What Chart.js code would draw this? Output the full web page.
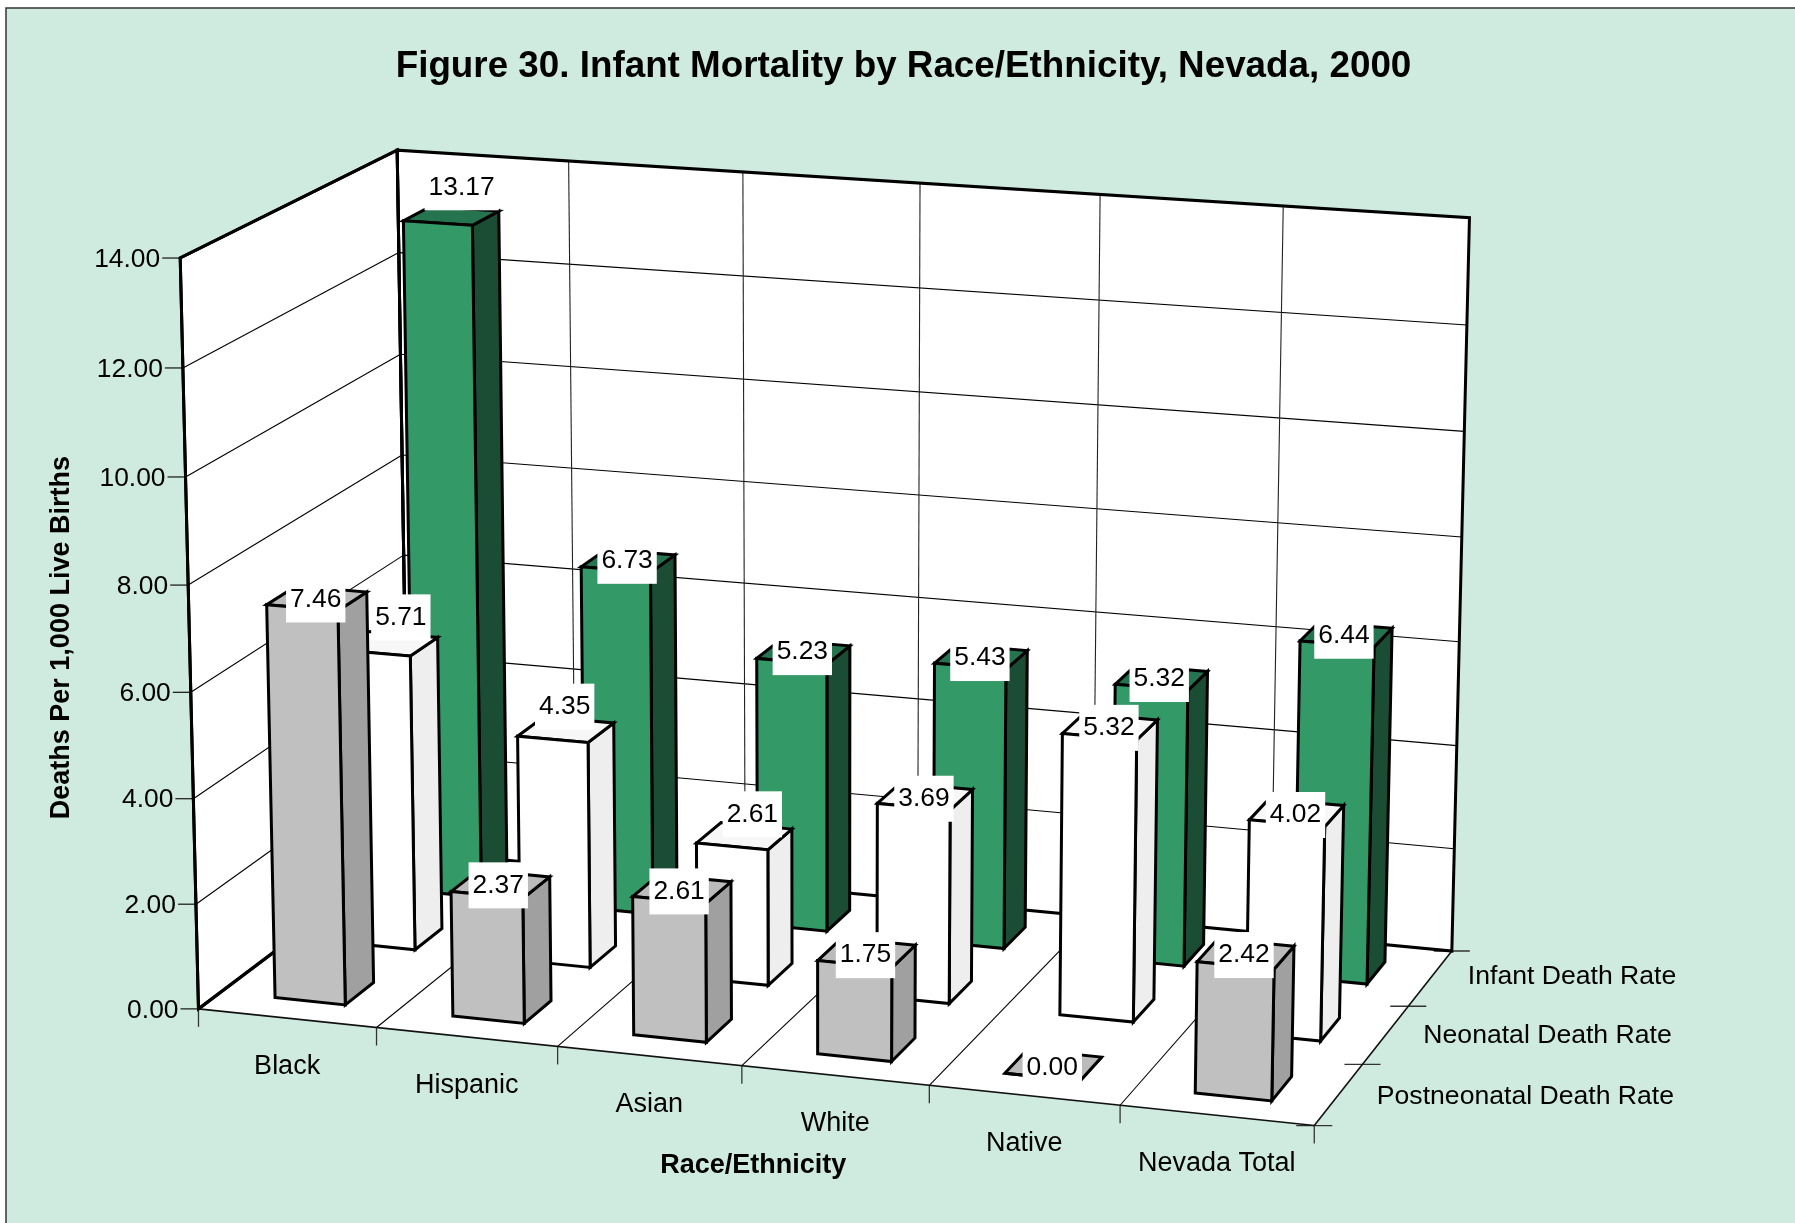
<!DOCTYPE html>
<html><head><meta charset="utf-8">
<style>html,body{margin:0;padding:0;background:#fff}canvas{display:block}</style>
<script src="https://cdn.jsdelivr.net/npm/chart.js@4"></script>
</head><body>
<canvas id="c" width="1795" height="1223"></canvas>
<script>
const categories = ["Black","Hispanic","Asian","White","Native","Nevada Total"];
const postneonatalRate = [7.46,2.37,2.61,1.75,0.00,2.42];
const neonatalRate = [5.71,4.35,2.61,3.69,5.32,4.02];
const infantRate = [13.17,6.73,5.23,5.43,5.32,6.44];
const seriesNames = ["Postneonatal Death Rate","Neonatal Death Rate","Infant Death Rate"];
const chartTitle = "Figure 30. Infant Mortality by Race/Ethnicity, Nevada, 2000";
const yAxisTitle = "Deaths Per 1,000 Live Births";
const xAxisTitle = "Race/Ethnicity";

/* ---------- layout / style (not data) ---------- */
const S = 1795/1568, FONT = '"Liberation Sans", Arial, sans-serif';
const faces = [
  {front:'#C0C0C0', side:'#A0A0A0', top:'#BBBBBB'},
  {front:'#FFFFFF', side:'#EEEEEE', top:'#F7F7F7'},
  {front:'#339966', side:'#1A4D33', top:'#267350'}
];
// label placement relative to the bar-top centre (dx, dy), per series and category
const labelNudge = [
  [[-1,1],[-2,1],[-2.5,2],[-1,2],[-1,2],[-1.5,1]],
  [[10,-23],[-1,-20],[7,-19],[-1,2],[-1,1],[-1,2]],
  [[9,-25],[-1,0],[-1,0],[-1,1],[-2,1],[-2,1]]
];
const seriesLabelNudge = [[0,2],[-2,1],[2,-1]];
const barShift = 0.0065/6;
// projection calibration of the 3-D box: [u 0-6, depth 0-3, v 0-14, screen x, screen y]
const corners = [[0,0,0,174,880],[6,0,0,1148,985],[0,3,14,348.5,130],[6,3,14,1284,190],[6,3,0,1268,827.5],[0,0,14,157,226.5],[0,3,0,356,746.5]];
const calib = [
 ...corners,...corners,...corners,
 [1,0,0,329,897],[2,0,0,488,914],[3,0,0,648,931],[4,0,0,812,949],[5,0,0,978,967],
 [1,3,14,496,141],[2,3,14,648,150],[3,3,14,802,160],[4,3,14,960,170],[5,3,14,1120,180],
 [6,1,0,1190,930],[6,2,0,1230,879],
 [0,0,12,159,321],[0,0,10,162,416],[0,0,8,164,510],[0,0,6,166.5,603],[0,0,4,169,696],[0,0,2,171.5,789],
 [6,3,12,1282,286],[6,3,10,1280,379],[6,3,8,1277,470],[6,3,6,1275,560],[6,3,4,1273,650],[6,3,2,1271,741]
];
function fitProjection(){
  const n=11, A=Array.from({length:n},()=>new Array(n+1).fill(0));
  const add=(r,b)=>{for(let i=0;i<n;i++){for(let j=0;j<n;j++)A[i][j]+=r[i]*r[j];A[i][n]+=r[i]*b;}};
  calib.forEach(([u,d,v,sx,sy])=>{
    u/=6;d/=3;v/=14;const X=sx/1000,Y=sy/1000;
    add([u,d,v,1,0,0,0,0,-X*u,-X*d,-X*v],X);
    add([0,0,0,0,u,d,v,1,-Y*u,-Y*d,-Y*v],Y);
  });
  for(let c=0;c<n;c++){
    let p=c;for(let r=c+1;r<n;r++)if(Math.abs(A[r][c])>Math.abs(A[p][c]))p=r;
    [A[c],A[p]]=[A[p],A[c]];
    for(let r=0;r<n;r++){if(r===c)continue;const f=A[r][c]/A[c][c];for(let k=c;k<=n;k++)A[r][k]-=f*A[c][k];}
  }
  return A.map((row,i)=>row[n]/row[i]);
}
const P = fitProjection();
// u, d, v are fractions 0..1 of the box; result in canvas pixels
function proj(u,d,v){
  const w=P[8]*u+P[9]*d+P[10]*v+1;
  return [1000*S*(P[0]*u+P[1]*d+P[2]*v+P[3])/w, 1000*S*(P[4]*u+P[5]*d+P[6]*v+P[7])/w];
}
function poly(ctx,pts,fill,stroke,lw){
  ctx.beginPath();pts.forEach((p,i)=>i?ctx.lineTo(p[0],p[1]):ctx.moveTo(p[0],p[1]));
  if(fill!==undefined&&fill!==null){ctx.closePath();ctx.fillStyle=fill;ctx.fill();}
  if(stroke){ctx.strokeStyle=stroke;ctx.lineWidth=lw;ctx.lineJoin='miter';ctx.lineCap='butt';ctx.stroke();}
}
function line(ctx,a,b,c,lw){poly(ctx,[a,b],null,c,lw);}
function text(ctx,s,x,y,font,align,rot){
  ctx.save();ctx.translate(x,y);if(rot)ctx.rotate(rot);ctx.font=font;ctx.fillStyle='#000';
  ctx.textAlign=align||'center';ctx.textBaseline='middle';ctx.fillText(s,0,0);ctx.restore();
}

const frame3D = {
  id:'frame3D',
  beforeDraw(chart){
    const ctx=chart.ctx;
    ctx.save();
    ctx.fillStyle='#fff';ctx.fillRect(0,0,1795,1223);
    const fx=6,fy=8;
    ctx.fillStyle='#CFEBDF';ctx.fillRect(fx,fy,1795-fx,1223-fy);
    ctx.strokeStyle='#333';ctx.lineWidth=1.5;ctx.beginPath();ctx.moveTo(fx,1223);ctx.lineTo(fx,fy);ctx.lineTo(1795,fy);ctx.stroke();
    ctx.restore();
  },
  beforeDatasetsDraw(chart){
    const ctx=chart.ctx,xs=chart.scales.x,ys=chart.scales.y;
    ctx.save();
    const vOf=t=>(ys.bottom-ys.getPixelForValue(t))/ys.height;
    // walls and floor
    poly(ctx,[proj(0,0,0),proj(0,0,1),proj(0,1,1),proj(0,1,0)],'#fff');
    poly(ctx,[proj(0,1,0),proj(0,1,1),proj(1,1,1),proj(1,1,0)],'#fff');
    poly(ctx,[proj(0,0,0),proj(1,0,0),proj(1,1,0),proj(0,1,0)],'#fff');
    // value gridlines and ticks
    ys.ticks.forEach(t=>{
      const v=vOf(t.value),a=proj(0,0,v),b=proj(0,1,v),c=proj(1,1,v);
      if(v>0&&v<1){line(ctx,a,b,'#000',1.1);line(ctx,b,c,'#000',1.1);}
      line(ctx,[a[0]-18,a[1]],a,'#222',1.3);
      text(ctx,t.label,a[0]-20,a[1]+1.5,'26.4px '+FONT,'right');
    });
    // category gridlines and ticks
    for(let i=0;i<=categories.length;i++){
      const u=i/categories.length,a=proj(u,0,0),b=proj(u,1,0),c=proj(u,1,1);
      if(i>0&&i<categories.length){line(ctx,a,b,'#000',1.1);line(ctx,b,c,'#222',1.1);}
      line(ctx,a,[a[0],a[1]+18],'#333',1.3);
    }
    categories.forEach((name,i)=>{
      const p=proj((xs.getPixelForValue(i)-xs.left)/xs.width,0,0);
      text(ctx,name,p[0],p[1]+48.5,'27px '+FONT);
    });
    // depth ticks & series names
    seriesNames.forEach((name,r)=>{
      const mid=proj(1,(r+.5)/3,0);
      text(ctx,name,1674+seriesLabelNudge[r][0]*S,mid[1]+seriesLabelNudge[r][1]*S,'26.6px '+FONT,'right');
    });
    for(let r=0;r<=3;r++){
      const a=proj(1,r/3,0);
      line(ctx,[a[0]-18,a[1]],[a[0]+18,a[1]],'#333',1.3);
    }
    // box outline
    line(ctx,proj(0,0,0),proj(1,0,0),'#111',1.6);
    line(ctx,proj(1,0,0),proj(1,1,0),'#111',1.6);
    poly(ctx,[proj(0,0,0),proj(0,0,1),proj(0,1,1),proj(0,1,0)],null,'#000',3);
    ctx.closePath();ctx.stroke();
    poly(ctx,[proj(0,1,0),proj(0,1,1),proj(1,1,1),proj(1,1,0),proj(0,1,0)],null,'#000',3);
    line(ctx,proj(0,0,0),proj(0,1,0),'#000',3.2);
    // axis titles
    text(ctx,yAxisTitle,54*S,557*S,'bold 27px '+FONT,'center',-Math.PI/2);
    text(ctx,xAxisTitle,658*S,1018.5*S,'bold 27px '+FONT);

    // bars, back row first, each row left to right
    for(let ds=chart.data.datasets.length-1;ds>=0;ds--){
      const meta=chart.getDatasetMeta(ds),f=faces[ds];
      const d0=(ds+.3)/3,d1=(ds+.7)/3;
      meta.data.forEach((el,i)=>{
        const u0=(el.x-el.width/2-xs.left)/xs.width+barShift,u1=(el.x+el.width/2-xs.left)/xs.width+barShift;
        const vt=(ys.bottom-el.y)/ys.height,vb=(ys.bottom-el.base)/ys.height;
        poly(ctx,[proj(u1,d0,vb),proj(u1,d1,vb),proj(u1,d1,vt),proj(u1,d0,vt)],f.side,'#000',3);
        poly(ctx,[proj(u0,d0,vt),proj(u1,d0,vt),proj(u1,d1,vt),proj(u0,d1,vt)],f.top,'#000',3);
        poly(ctx,[proj(u0,d0,vb),proj(u1,d0,vb),proj(u1,d0,vt),proj(u0,d0,vt)],f.front,'#000',3);
        const c=proj((u0+u1)/2,(d0+d1)/2,vt);
        const s=chart.data.datasets[ds].data[i].toFixed(2);
        const lx=c[0]+labelNudge[ds][i][0]*S,ly=c[1]+labelNudge[ds][i][1]*S;
        ctx.font='26.4px '+FONT;
        const tw=ctx.measureText(s).width+8;
        ctx.fillStyle='#fff';ctx.fillRect(lx-tw/2,ly-23,tw,46);
        text(ctx,s,lx,ly,'26.4px '+FONT);
      });
    }
    ctx.restore();
    return false;
  }
};

new Chart(document.getElementById('c'),{
  type:'bar',
  plugins:[frame3D],
  data:{labels:categories,datasets:[
    {label:seriesNames[0],data:postneonatalRate,backgroundColor:faces[0].front},
    {label:seriesNames[1],data:neonatalRate,backgroundColor:faces[1].front},
    {label:seriesNames[2],data:infantRate,backgroundColor:faces[2].front}
  ]},
  options:{
    responsive:false,animation:false,events:[],
    layout:{padding:{left:12,top:0,right:0,bottom:10}},
    datasets:{bar:{grouped:false,categoryPercentage:1,barPercentage:0.397}},
    plugins:{
      legend:{display:false},tooltip:{enabled:false},
      title:{display:true,text:chartTitle,color:'#000',font:{family:FONT,size:36.8,weight:'bold'},padding:{top:45,bottom:20}}
    },
    scales:{
      x:{type:'category',display:false},
      y:{type:'linear',display:false,min:0,max:14,ticks:{stepSize:2,callback:v=>v.toFixed(2)}}
    }
  }
});
</script>
</body></html>
